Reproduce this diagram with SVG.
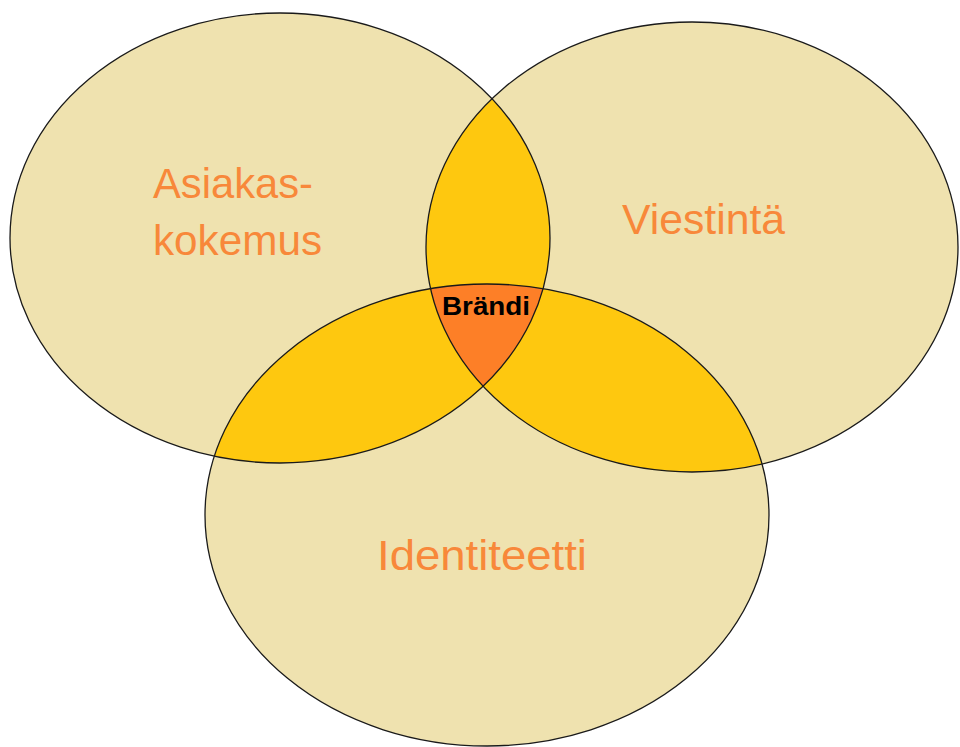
<svg xmlns="http://www.w3.org/2000/svg" width="960" height="747" viewBox="0 0 960 747">
<style>
.base{fill:#EFE2AF;stroke:none}
.pair{fill:#FEC80F;stroke:none}
.tri{fill:#FD7F27;stroke:none}
.edge{fill:none;stroke:#1a1a1a;stroke-width:1.3}
.lbl{font-family:"Liberation Sans",Arial,sans-serif;font-size:42px;fill:#F8883A}
.core{font-family:"Liberation Sans",Arial,sans-serif;font-size:25px;font-weight:bold;fill:#000}
</style>
<defs>
<ellipse id="eA" cx="280" cy="238" rx="270" ry="225"/>
<ellipse id="eB" cx="692" cy="247" rx="266" ry="225"/>
<ellipse id="eC" cx="487" cy="515" rx="282" ry="231"/>
<clipPath id="cA"><use href="#eA"/></clipPath>
<clipPath id="cB"><use href="#eB"/></clipPath>
<clipPath id="cC"><use href="#eC"/></clipPath>
</defs>
<rect width="960" height="747" fill="#fff"/>
<g id="asiakaskokemus">
<use href="#eA" class="base"/>
</g>
<g id="viestinta">
<use href="#eB" class="base"/>
</g>
<g id="identiteetti">
<use href="#eC" class="base"/>
</g>
<g id="overlaps">
<g clip-path="url(#cA)"><use href="#eB" class="pair"/><use href="#eC" class="pair"/></g>
<g clip-path="url(#cB)"><use href="#eC" class="pair"/></g>
<g clip-path="url(#cA)"><g clip-path="url(#cB)"><use href="#eC" class="tri"/></g></g>
</g>
<g id="outlines">
<use href="#eA" class="edge"/>
<use href="#eB" class="edge"/>
<use href="#eC" class="edge"/>
</g>
<g id="labels">
<text class="lbl" x="153" y="198" textLength="160" lengthAdjust="spacingAndGlyphs">Asiakas-</text>
<text class="lbl" x="153" y="255" textLength="169" lengthAdjust="spacingAndGlyphs">kokemus</text>
<text class="lbl" x="622" y="234" textLength="163" lengthAdjust="spacingAndGlyphs">Viestintä</text>
<text class="lbl" x="377" y="570" textLength="210" lengthAdjust="spacingAndGlyphs">Identiteetti</text>
<g id="brandi">
<text class="core" x="442" y="315" textLength="88" lengthAdjust="spacingAndGlyphs">Brändi</text>
</g>
</g>
</svg>
